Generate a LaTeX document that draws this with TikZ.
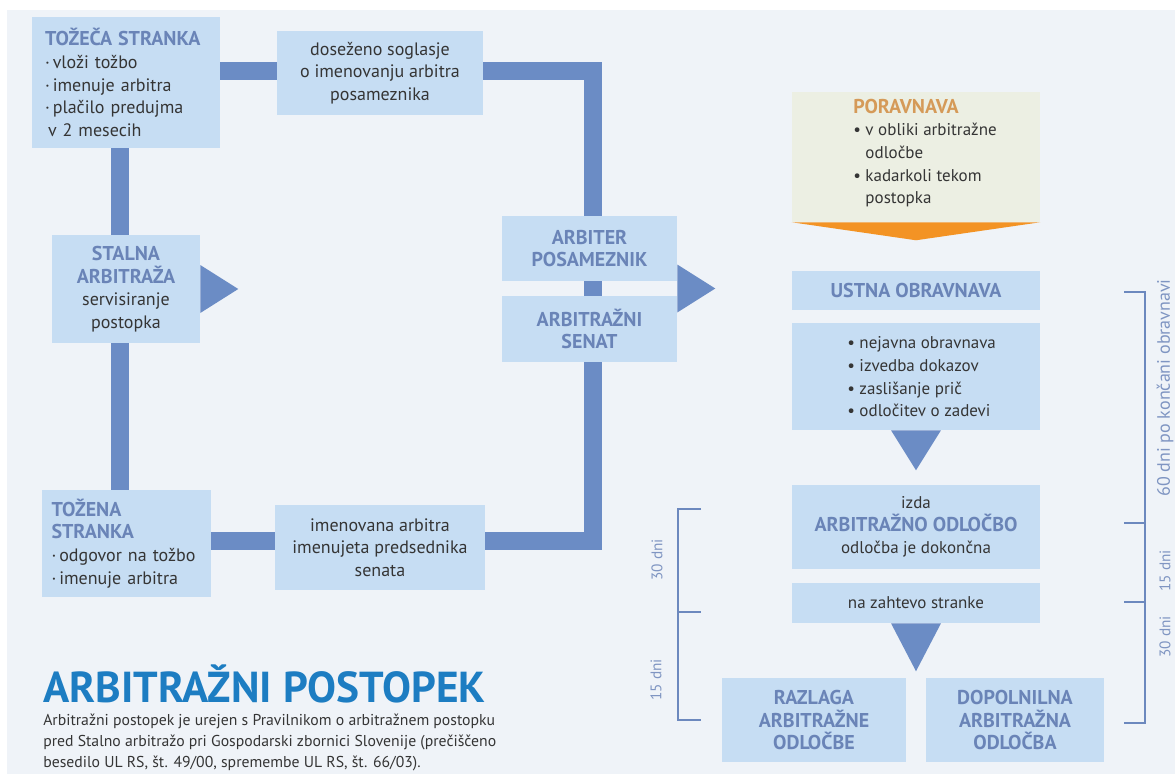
\documentclass[tikz,border=0pt]{standalone}
\usepackage{fontspec}
\setmainfont{PT Sans}
\usetikzlibrary{calc}
\newdimen\pxu
\pxu=0.75pt
\definecolor{bgc}{HTML}{EFF3F8}
\definecolor{boxc}{HTML}{C6DDF3}
\definecolor{barc}{HTML}{6B8CC5}
\definecolor{hdc}{HTML}{6A84B7}
\definecolor{txc}{HTML}{353535}
\definecolor{porc}{HTML}{ECEFE3}
\definecolor{orc}{HTML}{F39324}
\definecolor{porhd}{HTML}{D59A58}
\definecolor{titc}{HTML}{1D7DC2}
\definecolor{brc}{HTML}{6C88BE}
\definecolor{brt}{HTML}{7F95C2}
\newcommand{\hdA}[1]{{\fontsize{15}{17}\selectfont\color{hdc}\bfseries #1}}
\begin{document}
\begin{tikzpicture}[x=0.75pt,y=-0.75pt,
  box/.style={fill=boxc, inner sep=0pt, text=txc, font=\fontsize{13.5}{17}\selectfont},
  rbox/.style={fill=boxc, inner sep=0pt, text=txc, minimum width=248\pxu, align=center, font=\fontsize{12.75}{17}\selectfont},
  rtext/.style={inner sep=0pt, text=txc, font=\fontsize{12.75}{17}\selectfont},
  bar/.style={draw=barc, line width=18\pxu},
  brk/.style={draw=brc, line width=2\pxu},
  brlab/.style={inner sep=0pt, text=brt, rotate=90, font=\fontsize{11.5}{14}\selectfont}]
\useasboundingbox (0,0) rectangle (1175,774);
\fill[white] (0,0) rectangle (1175,774);
\fill[bgc] (7,10) rectangle (1175,774);

% left loop
\node[box, minimum width=188\pxu, minimum height=131\pxu, text width=162\pxu, align=left] (b1) at (126,82.5)
 {\hdA{TOŽEČA STRANKA}\\ ·\,vloži tožbo\\ ·\,imenuje arbitra\\ ·\,plačilo predujma\\ \hspace*{3\pxu}v 2 mesecih};
\node[box, minimum width=206\pxu, minimum height=84\pxu, align=center] (b2) at (380,73)
 {doseženo soglasje\\ o imenovanju arbitra\\ posameznika};
\node[box, minimum width=148\pxu, minimum height=108\pxu, align=center] (st) at (126,289)
 {\hdA{STALNA}\\ \hdA{ARBITRAŽA}\\ servisiranje\\ postopka};
\node[box, minimum width=169\pxu, minimum height=107\pxu, text width=150\pxu, align=left] (b3) at (126.5,543.5)
 {\hdA{TOŽENA}\\ \hdA{STRANKA}\\ ·\,odgovor na tožbo\\ ·\,imenuje arbitra};
\node[box, minimum width=210\pxu, minimum height=85\pxu, align=center] (im) at (380,547.5)
 {imenovana arbitra\\ imenujeta predsednika\\ senata};
\node[box, minimum width=175\pxu, minimum height=65\pxu, align=center] (arb) at (589.5,248.5)
 {\hdA{ARBITER}\\ \hdA{POSAMEZNIK}};
\node[box, minimum width=175\pxu, minimum height=66\pxu, align=center] (sen) at (589.5,329)
 {\hdA{ARBITRAŽNI}\\ \hdA{SENAT}};

\draw[bar] ($(b2.west)+(0,-1.5)$) -- ($(b1.east)+(0,-11)$);
\draw[bar] ($(b2.east)+(0,-1.5)$) -| ($(arb.north)+(3.5,0)$);
\draw[bar] ($(b1.south)+(-6.5,0)$) -- ($(st.north)+(-6.5,0)$);
\draw[bar] ($(st.south)+(-6.5,0)$) -- ($(b3.north)+(-7,0)$);
\draw[bar] ($(b3.east)+(0,-3)$) -- ($(im.west)+(0,-7)$);
\draw[bar] ($(im.east)+(0,-7)$) -| ($(sen.south)+(3.5,0)$);
\draw[bar] ($(arb.south)+(3.5,0)$) -- ($(sen.north)+(3.5,0)$);

\fill[barc] ($(st.east)+(0,-24)$) -- ($(st.east)+(38,0)$) -- ($(st.east)+(0,24)$) -- cycle;
\coordinate (tb) at ($(arb.south east)!0.5!(sen.north east)$);
\fill[barc] ($(tb)+(0,-24)$) -- ($(tb)+(38,0)$) -- ($(tb)+(0,24)$) -- cycle;

% right column
\node[fill=porc, minimum width=248\pxu, minimum height=130\pxu, inner sep=0pt] (por) at (916,157) {};
\node[rtext, anchor=west, align=left] (port) at (853,153)
 {{\fontsize{15}{17}\selectfont\color{porhd}\bfseries PORAVNAVA}\\ •\ v obliki arbitražne\\ \phantom{•\ }odločbe\\ •\ kadarkoli tekom\\ \phantom{•\ }postopka};
\fill[orc] (por.south west) -- (por.south east) -- ($(por.south)+(0,18)$) -- cycle;

\node[rbox, minimum height=39\pxu] (ust) at (916,290.5) {\hdA{USTNA OBRAVNAVA}};
\node[rbox, minimum height=107\pxu] (bul) at (916,376.5) {};
\node[rtext, anchor=west, align=left] (bult) at (847,377)
 {•\ nejavna obravnava\\ •\ izvedba dokazov\\ •\ zaslišanje prič\\ •\ odločitev o zadevi};
\fill[barc] ($(bul.south)+(-25,0)$) -- ($(bul.south)+(25,0)$) -- ($(bul.south)+(0,40)$) -- cycle;
\node[rbox, minimum height=84\pxu] (izda) at (916,527)
 {izda\\ \hdA{ARBITRAŽNO ODLOČBO}\\ odločba je dokončna};
\node[rbox, minimum height=40\pxu] (naz) at (916,603) {na zahtevo stranke};
\fill[barc] ($(naz.south)+(-25,0)$) -- ($(naz.south)+(25,0)$) -- ($(naz.south)+(0,48)$) -- cycle;
\node[box, minimum width=184\pxu, minimum height=84\pxu, align=center] (raz) at (814,720)
 {\hdA{RAZLAGA}\\ \hdA{ARBITRAŽNE}\\ \hdA{ODLOČBE}};
\node[box, minimum width=178\pxu, minimum height=84\pxu, align=center] (dop) at (1015,720)
 {\hdA{DOPOLNILNA}\\ \hdA{ARBITRAŽNA}\\ \hdA{ODLOČBA}};

% brackets
\draw[brk] (701,509) -- (678,509) -- (678,720) -- (701,720);
\draw[brk] (678,612) -- (701,612);
\draw[brk] (1124,292) -- (1145,292) -- (1145,723) -- (1124,723);
\draw[brk] (1124,523) -- (1145,523);
\draw[brk] (1124,602) -- (1145,602);
\node[brlab] (l30) at (657,560) {30 dni};
\node[brlab] (l15) at (656,680) {15 dni};
\node[brlab, font=\fontsize{13.5}{15}\selectfont] (r60) at (1165,388) {60 dni po končani obravnavi};
\node[brlab] (r15) at (1165,571) {15 dni};
\node[brlab] (r30) at (1165,637) {30 dni};

% title
\node[anchor=base west, inner sep=0pt, text=titc, font=\fontsize{32.5}{36}\selectfont\bfseries] (title) at (43,702) {ARBITRAŽNI POSTOPEK};
\node[anchor=west, inner sep=0pt, text=txc, align=left, font=\fontsize{11.8}{15.75}\selectfont] (desc) at (43,742)
 {Arbitražni postopek je urejen s Pravilnikom o arbitražnem postopku\\ pred Stalno arbitražo pri Gospodarski zbornici Slovenije (prečiščeno\\ besedilo UL RS, št. 49/00, spremembe UL RS, št. 66/03).};
\end{tikzpicture}
\end{document}
